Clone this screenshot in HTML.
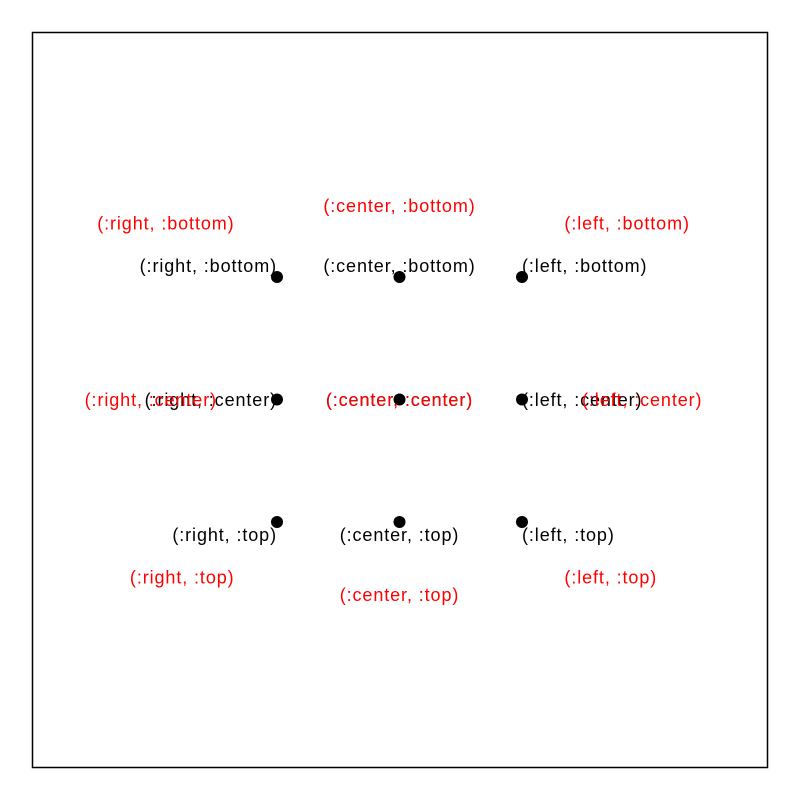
<!DOCTYPE html>
<html><head><meta charset="utf-8"><style>body{margin:0;background:#fff}svg{display:block}text{font-family:"Liberation Sans",Arial,sans-serif;font-size:18px;letter-spacing:0.9px}</style></head>
<body>
<svg id="chart" width="800" height="800">
<rect x="32.5" y="32.5" width="735" height="735" fill="#fff" stroke="#000" stroke-width="1.5"/>
</svg>
<script>
const haligns = ["right", "center", "left"];
const valigns = ["bottom", "center", "top"];
const xVals = [0, 1, 2];
const yVals = [2, 1, 0];
const offsetDist = 60;

const svg = document.getElementById('chart');
const NS = 'http://www.w3.org/2000/svg';
function xs(v){ return 277 + v * 122.5; }
function ys(v){ return 522 - v * 122.5; }
const anchorMap = {right:'end', center:'middle', left:'start'};
const baseShift = {bottom:-5, center:6.5, top:19};
const dx = {right:-1, center:0, left:1};
const dy = {bottom:-1, center:0, top:1};

haligns.forEach((h, i) => {
  valigns.forEach((v, j) => {
    const px = xs(xVals[i]), py = ys(yVals[j]);
    const c = document.createElementNS(NS, 'circle');
    c.setAttribute('cx', px); c.setAttribute('cy', py); c.setAttribute('r', 6);
    c.setAttribute('fill', '#000');
    
    
    svg.appendChild(c);
    const label = '(:' + h + ', :' + v + ')';
    const t = document.createElementNS(NS, 'text');
    t.setAttribute('x', px); t.setAttribute('y', py + baseShift[v]);
    t.setAttribute('text-anchor', anchorMap[h]);
    t.textContent = label;
    
    
    svg.appendChild(t);
    let ox = dx[h], oy = dy[v];
    const len = Math.hypot(ox, oy) || 1;
    ox = ox / len * offsetDist; oy = oy / len * offsetDist;
    const r = document.createElementNS(NS, 'text');
    r.setAttribute('x', px + ox); r.setAttribute('y', py + oy + baseShift[v]);
    r.setAttribute('text-anchor', anchorMap[h]);
    r.setAttribute('fill', '#ff0000');
    r.textContent = label;
    
    
    svg.appendChild(r);
  });
});
</script>
</body></html>
